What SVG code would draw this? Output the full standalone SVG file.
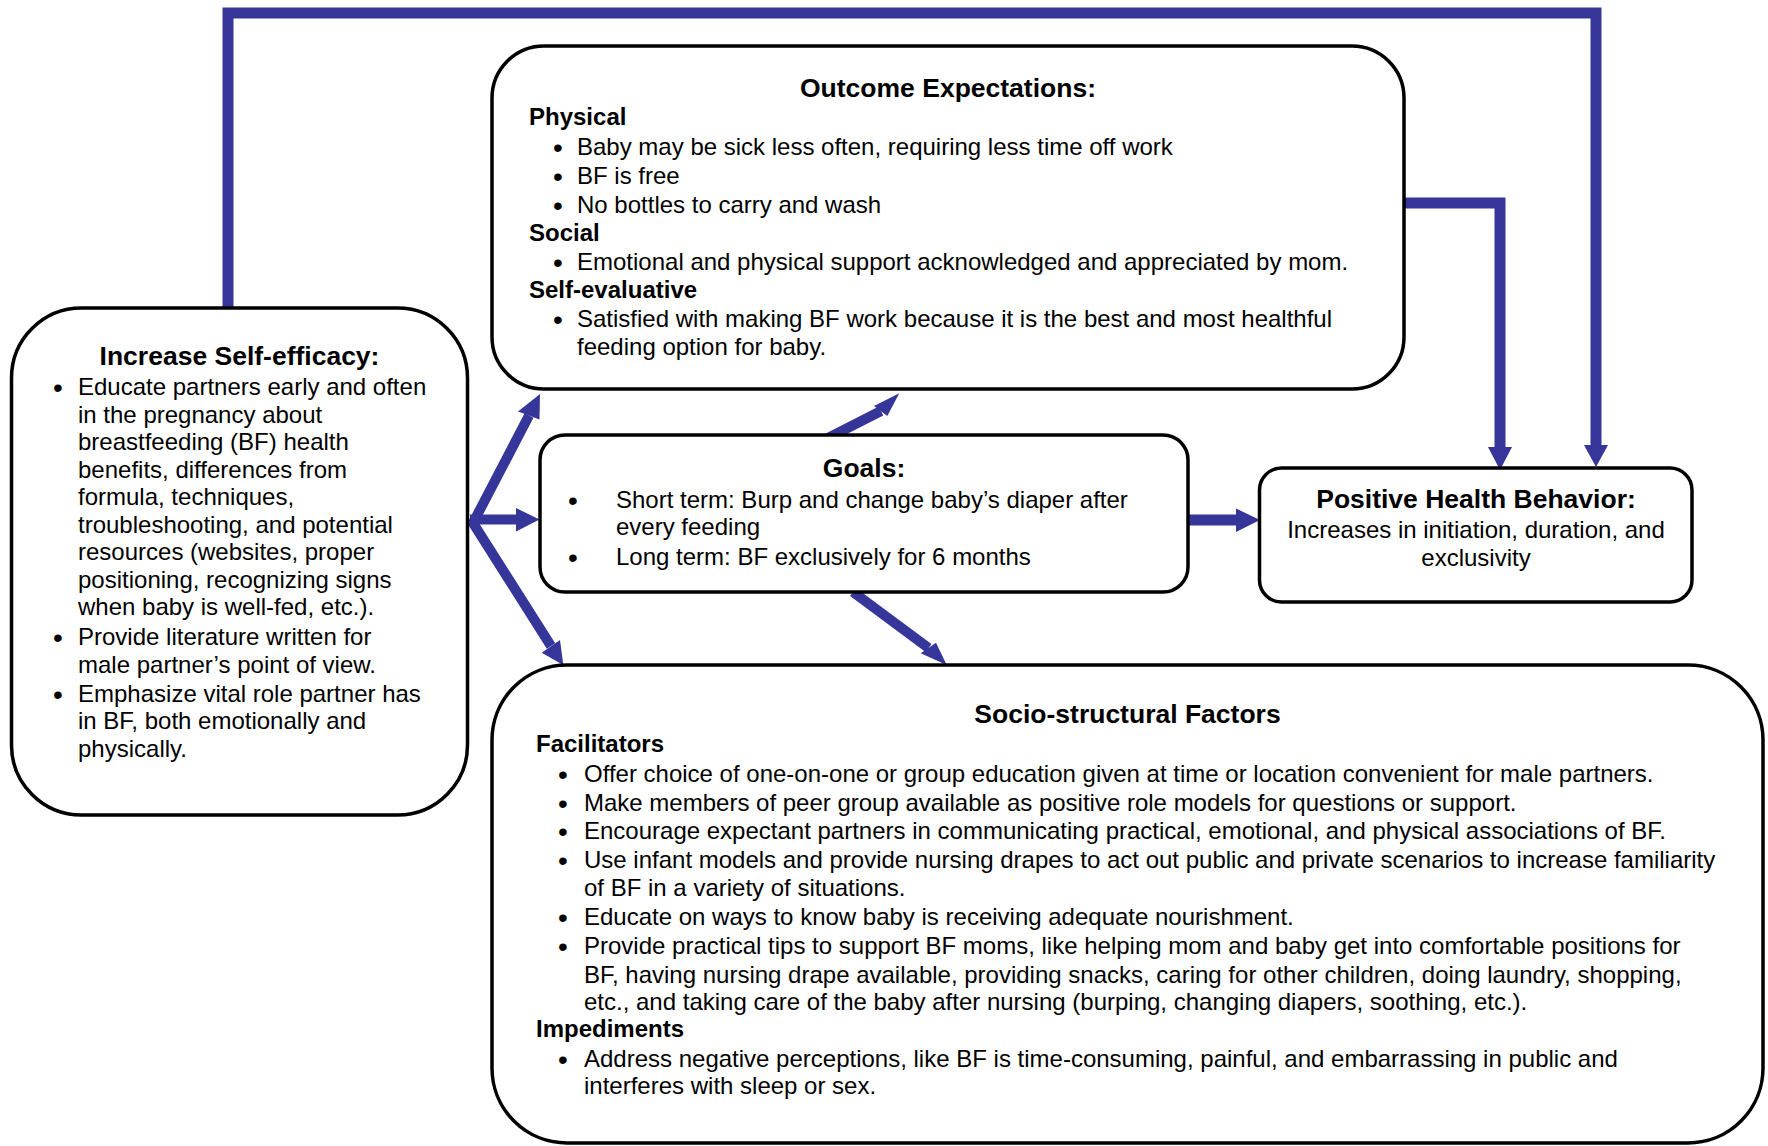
<svg xmlns="http://www.w3.org/2000/svg" width="1768" height="1146" viewBox="0 0 1768 1146">
<style>
.box{fill:#fff;stroke:#000;stroke-width:3.5}
text{font-family:"Liberation Sans",Arial,sans-serif;font-size:24px;fill:#000}
.t{font-weight:bold;font-size:26.5px;text-anchor:middle}
.h{font-weight:bold}
.c{text-anchor:middle}
.b{text-anchor:middle;font-size:28px}
.ln{fill:none;stroke:#36369a;stroke-linejoin:miter}
.hd{fill:#36369a}
</style>
<rect width="1768" height="1146" fill="#fff"/>
<g id="connectors">
<polyline class="ln" stroke-width="11" points="228,308 228,13 1596,13 1596,447"/>
<polygon class="hd" points="1584,445 1608,445 1596,467"/>
<polyline class="ln" stroke-width="11" points="1404,203 1500,203 1500,449"/>
<polygon class="hd" points="1488,447 1512,447 1500,470"/>
<line class="ln" stroke-width="11" x1="1188" y1="520" x2="1238" y2="520"/>
<polygon class="hd" points="1236,508.5 1260,520 1236,532"/>
<polyline class="ln" stroke-width="10" points="529,415.5 473,523 551,646"/>
<polygon class="hd" points="540,394 518,411.5 539.5,419.5"/>
<polygon class="hd" points="563.3,665 541.7,652.7 560,640"/>
<line class="ln" stroke-width="10" x1="470" y1="519.5" x2="518" y2="519.5"/>
<polygon class="hd" points="516,508 539.5,519.5 516,531.5"/>
<line class="ln" stroke-width="10" x1="828" y1="438" x2="881" y2="411"/>
<polygon class="hd" points="899.3,393.3 874,406 887.3,416"/>
<line class="ln" stroke-width="10" x1="853" y1="592" x2="928.5" y2="648"/>
<polygon class="hd" points="946.7,665 920.7,653.3 936,642.7"/>
</g>
<g id="self-efficacy">
<rect class="box" x="11.5" y="308" width="456" height="507" rx="70" ry="70"/>
<text class="t" x="239.5" y="365">Increase Self-efficacy:</text>
<text y="395"><tspan class="b" x="58" dy="2">•</tspan><tspan x="78" dy="-2">Educate partners early and often</tspan></text>
<text x="78" y="423">in the pregnancy about</text>
<text x="78" y="450">breastfeeding (BF) health</text>
<text x="78" y="478">benefits, differences from</text>
<text x="78" y="505">formula, techniques,</text>
<text x="78" y="533">troubleshooting, and potential</text>
<text x="78" y="560">resources (websites, proper</text>
<text x="78" y="588">positioning, recognizing signs</text>
<text x="78" y="615">when baby is well-fed, etc.).</text>
<text y="645"><tspan class="b" x="58" dy="2">•</tspan><tspan x="78" dy="-2">Provide literature written for</tspan></text>
<text x="78" y="673">male partner’s point of view.</text>
<text y="702"><tspan class="b" x="58" dy="2">•</tspan><tspan x="78" dy="-2">Emphasize vital role partner has</tspan></text>
<text x="78" y="729">in BF, both emotionally and</text>
<text x="78" y="757">physically.</text>
</g>
<g id="outcome-expectations">
<rect class="box" x="492" y="46" width="912" height="343" rx="52" ry="52"/>
<text class="t" x="948" y="97">Outcome Expectations:</text>
<text class="h" x="529" y="125">Physical</text>
<text y="155"><tspan class="b" x="558" dy="2">•</tspan><tspan x="577" dy="-2">Baby may be sick less often, requiring less time off work</tspan></text>
<text y="184"><tspan class="b" x="558" dy="2">•</tspan><tspan x="577" dy="-2">BF is free</tspan></text>
<text y="213"><tspan class="b" x="558" dy="2">•</tspan><tspan x="577" dy="-2">No bottles to carry and wash</tspan></text>
<text class="h" x="529" y="241">Social</text>
<text y="270"><tspan class="b" x="558" dy="2">•</tspan><tspan x="577" dy="-2">Emotional and physical support acknowledged and appreciated by mom.</tspan></text>
<text class="h" x="529" y="298">Self-evaluative</text>
<text y="327"><tspan class="b" x="558" dy="2">•</tspan><tspan x="577" dy="-2">Satisfied with making BF work because it is the best and most healthful</tspan></text>
<text x="577" y="355">feeding option for baby.</text>
</g>
<g id="goals">
<rect class="box" x="540" y="435" width="648" height="157" rx="25" ry="25"/>
<text class="t" x="864" y="477">Goals:</text>
<text y="508"><tspan class="b" x="573" dy="2">•</tspan><tspan x="616" dy="-2">Short term: Burp and change baby’s diaper after</tspan></text>
<text x="616" y="535">every feeding</text>
<text y="565"><tspan class="b" x="573" dy="2">•</tspan><tspan x="616" dy="-2">Long term: BF exclusively for 6 months</tspan></text>
</g>
<g id="positive-health-behavior">
<rect class="box" x="1259.5" y="468" width="432.5" height="134" rx="22" ry="22"/>
<text class="t" x="1476" y="508">Positive Health Behavior:</text>
<text class="c" x="1476" y="538">Increases in initiation, duration, and</text>
<text class="c" x="1476" y="566">exclusivity</text>
</g>
<g id="socio-structural-factors">
<rect class="box" x="492" y="665" width="1271" height="478" rx="75" ry="75"/>
<text class="t" x="1127.5" y="723">Socio-structural Factors</text>
<text class="h" x="536" y="752">Facilitators</text>
<text y="782"><tspan class="b" x="563" dy="2">•</tspan><tspan x="584" dy="-2">Offer choice of one-on-one or group education given at time or location convenient for male partners.</tspan></text>
<text y="811"><tspan class="b" x="563" dy="2">•</tspan><tspan x="584" dy="-2">Make members of peer group available as positive role models for questions or support.</tspan></text>
<text y="839"><tspan class="b" x="563" dy="2">•</tspan><tspan x="584" dy="-2">Encourage expectant partners in communicating practical, emotional, and physical associations of BF.</tspan></text>
<text y="868"><tspan class="b" x="563" dy="2">•</tspan><tspan x="584" dy="-2">Use infant models and provide nursing drapes to act out public and private scenarios to increase familiarity</tspan></text>
<text x="584" y="896">of BF in a variety of situations.</text>
<text y="925"><tspan class="b" x="563" dy="2">•</tspan><tspan x="584" dy="-2">Educate on ways to know baby is receiving adequate nourishment.</tspan></text>
<text y="954"><tspan class="b" x="563" dy="2">•</tspan><tspan x="584" dy="-2">Provide practical tips to support BF moms, like helping mom and baby get into comfortable positions for</tspan></text>
<text x="584" y="983">BF, having nursing drape available, providing snacks, caring for other children, doing laundry, shopping,</text>
<text x="584" y="1010">etc., and taking care of the baby after nursing (burping, changing diapers, soothing, etc.).</text>
<text class="h" x="536" y="1037">Impediments</text>
<text y="1067"><tspan class="b" x="563" dy="2">•</tspan><tspan x="584" dy="-2">Address negative perceptions, like BF is time-consuming, painful, and embarrassing in public and</tspan></text>
<text x="584" y="1094">interferes with sleep or sex.</text>
</g>
</svg>
